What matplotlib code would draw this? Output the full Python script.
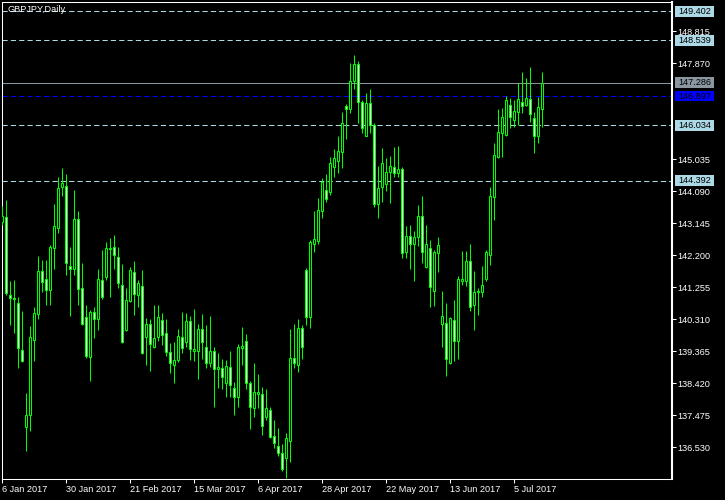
import numpy as np
import matplotlib
matplotlib.use('Agg')
import matplotlib.pyplot as plt
import matplotlib.transforms as mtransforms
from matplotlib.patches import Rectangle

# GBPJPY daily candles, 6 Jan 2017 .. mid Jul 2017
opens = [143.18, 143.32, 141.02, 140.93, 140.79, 139.40, 137.13, 137.48, 139.70, 140.46,
         141.73, 141.49, 141.17, 142.41, 143.00, 144.21, 144.24, 141.88, 141.79, 143.26,
         141.23, 140.37, 139.19, 140.52, 140.31, 141.47, 141.55, 142.38, 142.44, 142.14,
         141.32, 139.99, 140.85, 141.70, 141.02, 141.29, 139.78, 140.17, 139.49, 139.78,
         140.29, 139.90, 139.34, 138.96, 139.11, 139.78, 139.64, 140.26, 139.37, 139.37,
         140.02, 139.49, 139.02, 139.37, 138.84, 138.87, 138.43, 138.90, 138.28, 138.01,
         139.46, 139.67, 138.43, 137.69, 138.10, 138.10, 137.42, 137.63, 136.87, 136.57,
         136.36, 136.22, 136.72, 139.16, 138.96, 140.05, 141.76, 140.37, 142.53, 142.62,
         143.50, 144.12, 144.06, 144.80, 144.98, 145.24, 146.60, 146.51, 147.34, 147.84,
         146.72, 145.72, 146.69, 146.04, 143.71, 144.21, 144.30, 144.65, 144.80, 144.62,
         144.74, 142.29, 142.76, 142.53, 142.73, 143.35, 141.85, 142.41, 141.14, 142.26,
         140.17, 140.20, 139.02, 140.29, 139.67, 141.44, 141.44, 142.03, 140.73, 141.11,
         141.11, 141.49, 142.20, 143.92, 145.10, 145.80, 145.75, 146.63, 146.19, 146.42,
         146.72, 146.63, 146.81, 146.25, 145.72, 146.51]
highs = [143.65, 143.83, 141.44, 141.47, 140.96, 140.55, 138.13, 140.11, 140.67, 142.17,
         142.06, 142.06, 142.50, 143.71, 144.50, 144.77, 144.59, 142.44, 144.12, 143.50,
         141.97, 140.73, 140.58, 140.67, 141.79, 142.35, 142.59, 142.70, 142.79, 142.44,
         141.94, 141.23, 141.85, 142.03, 141.47, 141.76, 140.35, 140.31, 140.73, 140.73,
         140.49, 140.31, 139.61, 139.64, 140.02, 140.52, 140.49, 140.40, 140.61, 140.17,
         140.46, 140.14, 140.40, 139.49, 139.31, 139.13, 139.11, 139.37, 138.46, 139.58,
         140.08, 139.87, 138.49, 139.02, 138.69, 138.31, 138.25, 137.72, 137.34, 137.10,
         136.63, 136.95, 140.02, 140.17, 140.31, 140.14, 141.82, 142.65, 143.50, 143.89,
         144.48, 144.59, 145.10, 145.33, 145.72, 146.42, 146.66, 147.87, 148.11, 147.93,
         146.78, 146.98, 147.10, 146.10, 144.83, 145.36, 145.07, 145.13, 145.39, 145.42,
         144.80, 143.06, 143.09, 142.91, 143.68, 143.94, 143.09, 142.65, 142.35, 142.73,
         141.14, 140.79, 140.37, 140.88, 141.58, 142.32, 142.32, 142.53, 141.73, 141.23,
         141.88, 142.35, 144.21, 145.51, 146.51, 146.54, 146.90, 146.84, 146.78, 147.28,
         147.60, 147.43, 147.75, 146.42, 146.87, 147.60]
lows = [143.09, 141.02, 140.14, 139.90, 138.87, 139.05, 136.42, 137.01, 139.08, 140.31,
        141.11, 140.73, 140.73, 141.79, 142.85, 143.94, 141.61, 140.40, 141.61, 140.73,
        140.14, 139.16, 138.49, 139.76, 139.99, 140.90, 141.47, 140.96, 141.79, 141.23,
        139.61, 139.96, 140.82, 140.43, 140.67, 139.28, 138.96, 138.78, 139.46, 139.67,
        139.55, 139.22, 138.72, 138.43, 139.05, 139.31, 139.49, 139.11, 139.08, 138.55,
        139.13, 138.87, 138.90, 137.72, 138.28, 138.25, 138.01, 138.01, 137.48, 137.72,
        138.96, 138.25, 137.07, 137.42, 137.69, 136.89, 137.34, 136.81, 136.51, 136.27,
        135.83, 135.62, 136.10, 138.87, 138.75, 139.13, 140.14, 140.05, 142.29, 142.53,
        143.30, 143.77, 143.97, 144.50, 144.62, 144.77, 145.63, 146.39, 147.10, 146.10,
        145.80, 145.72, 145.80, 143.62, 143.30, 143.77, 144.09, 143.74, 144.50, 144.50,
        142.12, 142.12, 141.79, 141.44, 142.47, 141.97, 141.82, 140.67, 140.70, 141.70,
        139.49, 138.63, 138.99, 139.08, 139.13, 141.32, 141.29, 140.55, 139.99, 140.43,
        140.96, 141.44, 141.91, 143.24, 145.07, 145.10, 145.72, 145.95, 145.98, 146.04,
        146.39, 146.60, 146.13, 145.21, 145.51, 145.98]
closes = [143.35, 141.08, 140.93, 140.90, 139.46, 139.08, 137.48, 139.78, 140.49, 141.73,
          141.41, 141.17, 142.44, 143.06, 144.18, 144.33, 141.97, 141.79, 143.26, 141.20,
          140.17, 139.22, 140.52, 140.31, 141.49, 140.96, 142.41, 142.41, 142.20, 141.38,
          139.64, 140.88, 141.76, 141.05, 141.38, 139.31, 140.17, 139.58, 139.76, 140.37,
          139.84, 139.34, 139.02, 139.11, 139.81, 139.46, 140.26, 139.43, 139.43, 140.02,
          139.64, 139.02, 139.37, 138.84, 138.90, 138.61, 138.93, 138.37, 138.01, 139.49,
          139.52, 138.43, 137.72, 138.16, 138.16, 137.16, 137.69, 136.84, 136.66, 136.36,
          135.89, 136.81, 139.16, 139.02, 140.05, 139.49, 140.37, 142.59, 142.68, 143.53,
          144.36, 143.86, 144.92, 145.07, 145.27, 146.10, 146.51, 147.34, 147.84, 146.72,
          145.95, 146.69, 146.04, 143.71, 144.18, 144.92, 144.65, 144.83, 144.62, 144.74,
          142.26, 142.76, 142.53, 142.73, 143.35, 142.29, 142.53, 141.26, 142.29, 142.50,
          140.40, 139.13, 140.35, 139.67, 141.49, 141.49, 142.03, 140.67, 141.11, 141.14,
          141.32, 142.29, 143.94, 145.15, 145.83, 146.28, 146.78, 146.28, 146.45, 146.81,
          146.60, 146.84, 146.37, 145.72, 146.57, 147.286]

date_pos = [0, 16, 32, 48, 64, 80, 96, 112, 128]
date_labels = ['6 Jan 2017', '30 Jan 2017', '21 Feb 2017', '15 Mar 2017', '6 Apr 2017',
               '28 Apr 2017', '22 May 2017', '13 Jun 2017', '5 Jul 2017']
price_ticks = [148.815, 147.870, 145.035, 144.090, 143.145, 142.200, 141.255,
               140.310, 139.365, 138.420, 137.475, 136.530]

level_lines = [149.402, 148.539, 146.034, 144.392]
bid_price = 147.286
blue_line = 146.897

plt.rcParams['font.family'] = ['Liberation Sans', 'DejaVu Sans']

fig = plt.figure(figsize=(7.25, 5), dpi=100, facecolor='black')
ax = fig.add_axes([2/725, 21/500, 670/725, 477/500], facecolor='black')

o = np.array(opens)
h = np.array(highs)
l = np.array(lows)
c = np.array(closes)
x = np.arange(len(c))
bull = c > o

ax.vlines(x, l, h, color='#00ff00', lw=0.75, zorder=3)
ax.bar(x, np.abs(c - o), bottom=np.minimum(o, c), width=0.5,
       color=np.where(bull, 'black', 'white'), edgecolor='#00ff00',
       linewidth=0.75, zorder=4)

for lv in level_lines:
    ax.axhline(lv, color='#add8e6', lw=0.75, ls=(0, (5, 3)), zorder=1)
ax.axhline(bid_price, color='#8a96a0', lw=0.75, zorder=1)
ax.axhline(blue_line, color='#0000ff', lw=0.75, ls=(0, (5, 3)), zorder=1)

ax.set_xlim(-0.075, 167.425)
ax.set_ylim(135.595, 149.671)

ax.yaxis.tick_right()
ax.set_yticks(price_ticks)
ax.set_yticklabels(['%.3f' % t for t in price_ticks])
ax.set_xticks(date_pos)
ax.set_xticklabels(date_labels, ha='left')
ax.tick_params(axis='both', colors='white', length=3, width=0.75, pad=1, labelsize=6.6)

for s in ax.spines.values():
    s.set_color('white')
    s.set_linewidth(0.75)
ax.spines['right'].set_linewidth(1.5)

# price labels of the horizontal lines, drawn on the right scale
trans = mtransforms.blended_transform_factory(ax.transAxes, ax.transData)
boxes = [(lv, '#add8e6') for lv in level_lines] + [(bid_price, '#8a96a0'), (blue_line, '#0000ff')]
for lv, col in boxes:
    ax.add_patch(Rectangle((1.0045, lv - 0.162), 0.058, 0.324, transform=trans,
                           facecolor=col, edgecolor='none', clip_on=False, zorder=5))
    ax.text(1.0335, lv, '%.3f' % lv, transform=trans, ha='center', va='center',
            color='black', fontsize=6.6, zorder=6, clip_on=False)

ax.text(0.0075, 0.994, 'GBPJPY,Daily', transform=ax.transAxes, color='white',
        fontsize=6.6, ha='left', va='top', zorder=6)

fig.savefig('out.png', dpi=100, facecolor='black')
